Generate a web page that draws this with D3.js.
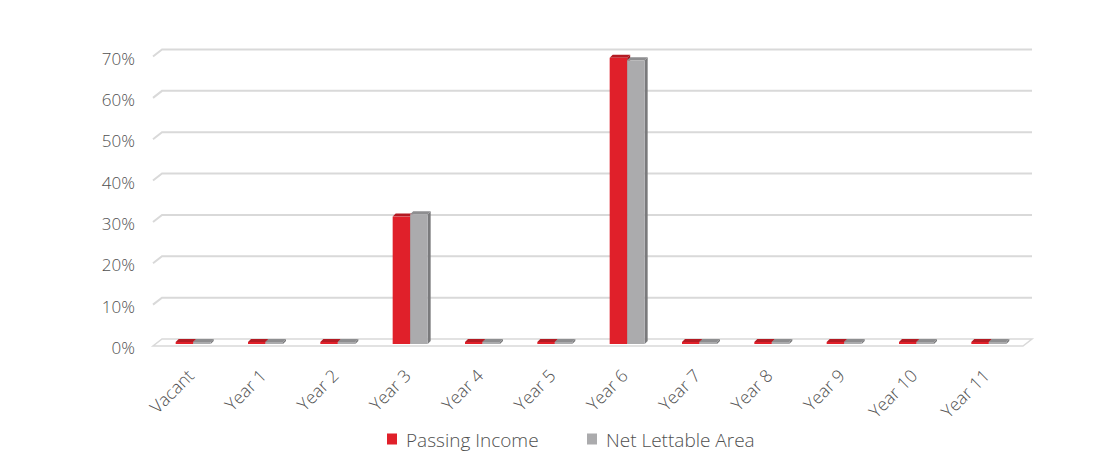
<!DOCTYPE html>
<html>
<head>
<meta charset="utf-8">
<script src="https://cdn.jsdelivr.net/npm/d3@7"></script>
<style>
  html, body { margin: 0; padding: 0; background: #fff; }
  svg text { font-family: "Open Sans", "Lato", sans-serif; font-weight: 300; fill: #505050; }
</style>
</head>
<body>
<svg id="chart" width="1096" height="462"></svg>
<script>
// Lease expiry profile: share of passing income and net lettable area
const categories = ["Vacant", "Year 1", "Year 2", "Year 3", "Year 4", "Year 5",
                    "Year 6", "Year 7", "Year 8", "Year 9", "Year 10", "Year 11"];
const passingIncome = [0, 0, 0, 0.308, 0, 0, 0.692, 0, 0, 0, 0, 0];
const netLettableArea = [0, 0, 0, 0.314, 0, 0, 0.686, 0, 0, 0, 0, 0];
const yTicks = [0, 0.1, 0.2, 0.3, 0.4, 0.5, 0.6, 0.7];
const seriesNames = ["Passing Income", "Net Lettable Area"];

const colors = {
  red: { front: "#E0202A", top: "#B31A22", side: "#9E161D" },
  grey: { front: "#ABABAD", top: "#8E8E90", side: "#7A7A7C" }
};

const svg = d3.select("#chart");

// 3D wall offset (back plane relative to front plane)
const wallDx = 9, wallDy = -7;
// bar depth offset
const barDx = 3, barDy = -3;

const x = d3.scaleBand().domain(categories).range([157, 1025]).padding(0);
// front-plane value scale
const yFront = d3.scaleLinear().domain([0, 0.7]).range([346, 56.5]);
// bar scale (bars sit slightly behind the front edge)
const yBar = d3.scaleLinear().domain([0, 0.7]).range([344, 54.5]);

const left = x.range()[0] - 4, right = x.range()[1] - 2;

// floor
const f0 = yFront(0);
svg.append("polygon")
  .attr("points", [
    [left, f0], [right, f0], [right + wallDx, f0 + wallDy], [left + wallDx, f0 + wallDy]
  ].map(p => p.join(",")).join(" "))
  .attr("fill", "#fff")
  .attr("stroke", "#D9D9D9")
  .attr("stroke-width", 1.5);

// gridlines on the back wall with the side-wall diagonal
const grid = svg.append("g");
yTicks.filter(t => t > 0).forEach(t => {
  const yf = yFront(t);
  grid.append("path")
    .attr("d", `M${left},${yf} L${left + wallDx},${yf + wallDy} L${right + wallDx},${yf + wallDy}`)
    .attr("fill", "none")
    .attr("stroke", "#D9D9D9")
    .attr("stroke-width", 2);
});

// y-axis labels
svg.append("g").selectAll("text")
  .data(yTicks)
  .join("text")
  .attr("x", 135)
  .attr("y", d => yFront(d) + 3.5)
  .attr("text-anchor", "end")
  .attr("dominant-baseline", "middle")
  .style("font-size", "17px")
  .text(d => d3.format(".0%")(d));

// x-axis labels
svg.append("g").selectAll("text")
  .data(categories)
  .join("text")
  .attr("transform", d => `translate(${x(d) + x.bandwidth() / 2 + 2},${377}) rotate(-45)`)
  .attr("text-anchor", "end")
  .style("font-size", "17.5px")
  .text(d => d);

// 3D box for a bar
function drawBox(g, x0, w, v, c) {
  const yb = yBar(0);
  let yt = yBar(v);
  if (yb - yt < 2) yt = yb - 2;
  // side face
  g.append("polygon")
    .attr("points", [[x0 + w, yt], [x0 + w + barDx, yt + barDy], [x0 + w + barDx, yb + barDy], [x0 + w, yb]]
      .map(p => p.join(",")).join(" "))
    .attr("fill", c.side);
  // top face
  g.append("polygon")
    .attr("points", [[x0, yt], [x0 + barDx, yt + barDy], [x0 + w + barDx, yt + barDy], [x0 + w, yt]]
      .map(p => p.join(",")).join(" "))
    .attr("fill", c.top);
  // front face
  g.append("rect")
    .attr("x", x0).attr("y", yt)
    .attr("width", w).attr("height", yb - yt)
    .attr("fill", c.front);
}

const bars = svg.append("g");
const barW = 17.5;
categories.forEach((cat, i) => {
  const cx = x(cat) + x.bandwidth() / 2;
  const g = bars.append("g");
  drawBox(g, cx - barW, barW, passingIncome[i], colors.red);
  drawBox(g, cx, barW, netLettableArea[i], colors.grey);
});

// legend
const legend = svg.append("g");
const legendItems = [
  { name: seriesNames[0], color: colors.red.front, x: 387 },
  { name: seriesNames[1], color: colors.grey.front, x: 587 }
];
legendItems.forEach(it => {
  legend.append("rect")
    .attr("x", it.x).attr("y", 433.5)
    .attr("width", 10).attr("height", 11)
    .attr("fill", it.color);
  legend.append("text")
    .attr("x", it.x + 19).attr("y", 447)
    .style("font-size", "19px")
    .text(it.name);
});
</script>
</body>
</html>
